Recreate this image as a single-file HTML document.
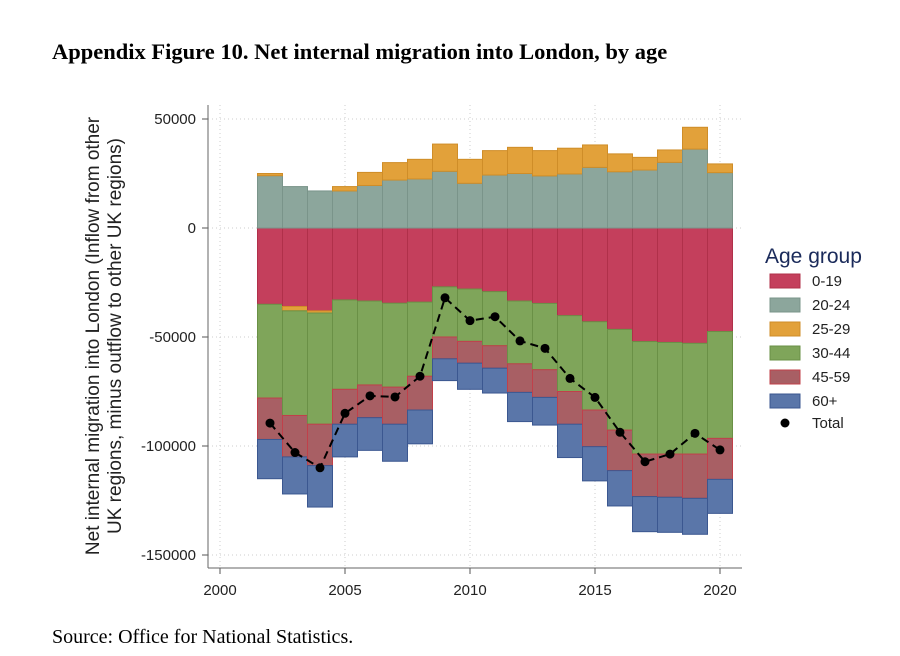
<!DOCTYPE html>
<html><head><meta charset="utf-8">
<style>
body{margin:0;background:#fff;width:900px;height:656px;overflow:hidden;}
svg{display:block;}
</style></head>
<body>
<svg id="chart" width="900" height="656" xmlns="http://www.w3.org/2000/svg">
<text x="52" y="59" font-family="Liberation Serif, serif" font-weight="bold" font-size="22.5" fill="#000">Appendix Figure 10. Net internal migration into London, by age</text>
<text x="52" y="643" font-family="Liberation Serif, serif" font-size="20" fill="#000">Source: Office for National Statistics.</text>
<g font-family="Liberation Sans, sans-serif" fill="#222">
<text transform="translate(99,336) rotate(-90)" text-anchor="middle" font-size="19">Net internal migration into London (Inflow from other</text>
<text transform="translate(121,336) rotate(-90)" text-anchor="middle" font-size="19">UK regions, minus outflow to other UK regions)</text>
</g>
<g id="grid"></g>
<g id="bars"></g>
<g id="line"></g>
<g id="axes"></g>
<g id="legend" font-family="Liberation Sans, sans-serif">
<text x="765" y="263" font-size="21" fill="#1a2a5a">Age group</text>
</g>
</svg>
<script>
const years=[2002,2003,2004,2005,2006,2007,2008,2009,2010,2011,2012,2013,2014,2015,2016,2017,2018,2019,2020];
const s0_19=[-35000,-36000,-38000,-33000,-33500,-34500,-34000,-27000,-28000,-29200,-33500,-34600,-40200,-43000,-46500,-52100,-52500,-52900,-47500];
const s20_24=[24000,19000,17000,17000,19500,22000,22500,26000,20500,24300,25000,23900,24800,27800,25800,26600,30100,36200,25400];
const s25_29=[1000,-2000,-1000,2000,6000,8000,9000,12500,11000,11200,12000,11600,11800,10300,8200,5800,5700,10000,4000];
const s30_44=[-43000,-48000,-51000,-41000,-38500,-38500,-34000,-23000,-24000,-24800,-28800,-30400,-34800,-40500,-46200,-51600,-51200,-50800,-49000];
const s45_59=[-19000,-19000,-19000,-16000,-15000,-17000,-15500,-10000,-10000,-10300,-13100,-12700,-15000,-16800,-18600,-19500,-19800,-20300,-18800];
const s60=[-18000,-17000,-19000,-15000,-15000,-17000,-15500,-10000,-12000,-11400,-13400,-12700,-15300,-15700,-16200,-16100,-16100,-16500,-15600];
const totals=[-89500,-103000,-110000,-85000,-77000,-77500,-68000,-32000,-42500,-40700,-51800,-55200,-69000,-77700,-93700,-107200,-103700,-94200,-101800];
const yTicks=[50000,0,-50000,-100000,-150000];
const xTicks=[2000,2005,2010,2015,2020];

const NS='http://www.w3.org/2000/svg';
const X=y=>220+(y-2000)*25;
const Y=v=>228-v*0.00218;
function mk(tag,attrs,parent){const e=document.createElementNS(NS,tag);for(const k in attrs)e.setAttribute(k,attrs[k]);parent.appendChild(e);return e;}
const grid=document.getElementById('grid'),bars=document.getElementById('bars'),line=document.getElementById('line'),axes=document.getElementById('axes'),legend=document.getElementById('legend');
const L=208,R=742,T=105,B=568;
yTicks.forEach(v=>{
 const g=mk('line',{x1:L,x2:R,y1:Y(v),y2:Y(v),stroke:'#ccc','stroke-dasharray':'1 3'},grid);
 
 
 const t=mk('line',{x1:L-6,x2:L,y1:Y(v),y2:Y(v),stroke:'#555'},axes);
 
 
 const tx=mk('text',{x:L-12,y:Y(v)+5,'text-anchor':'end','font-family':'Liberation Sans, sans-serif','font-size':'15',fill:'#222'},axes);
 tx.textContent=String(v);
 
 
});
xTicks.forEach(v=>{
 const g=mk('line',{x1:X(v),x2:X(v),y1:T,y2:B,stroke:'#ccc','stroke-dasharray':'1 3'},grid);
 
 
 const t=mk('line',{x1:X(v),x2:X(v),y1:B,y2:B+6,stroke:'#555'},axes);
 
 
 const tx=mk('text',{x:X(v),y:B+27,'text-anchor':'middle','font-family':'Liberation Sans, sans-serif','font-size':'15',fill:'#222'},axes);
 tx.textContent=String(v);
 
 
});
const la=mk('line',{x1:L,x2:L,y1:T,y2:B,stroke:'#666'},axes);


const ba=mk('line',{x1:L,x2:R,y1:B,y2:B,stroke:'#666'},axes);



const series=[
 {name:'0-19',vals:s0_19,fill:'#c43f5c',stroke:'#b0304a'},
 {name:'20-24',vals:s20_24,fill:'#8ca69c',stroke:'#7a948a'},
 {name:'25-29',vals:s25_29,fill:'#e2a13a',stroke:'#cf8d28'},
 {name:'30-44',vals:s30_44,fill:'#7fa55a',stroke:'#6a9046'},
 {name:'45-59',vals:s45_59,fill:'#a85f64',stroke:'#c0404a'},
 {name:'60+',vals:s60,fill:'#5a76a9',stroke:'#3b5790'}
];
years.forEach((yr,i)=>{
 let pos=0,neg=0;
 series.forEach(s=>{
  const v=s.vals[i];let a,b;
  if(v>=0){a=pos;b=pos+v;pos=b;}else{a=neg;b=neg+v;neg=b;}
  const r=mk('rect',{x:X(yr)-12.5,width:25,y:Math.min(Y(a),Y(b)),height:Math.abs(Y(a)-Y(b)),fill:s.fill,stroke:s.stroke,'stroke-width':1},bars);
  
  
 });
});
const pts=years.map((yr,i)=>X(yr)+','+Y(totals[i])).join(' ');
const pl=mk('polyline',{points:pts,fill:'none',stroke:'#000','stroke-width':2,'stroke-dasharray':'8 5'},line);


years.forEach((yr,i)=>{
 const c=mk('circle',{cx:X(yr),cy:Y(totals[i]),r:4.5,fill:'#000'},line);
 
 
});
series.forEach((s,k)=>{
 const y=281+k*24;
 const r=mk('rect',{x:770,y:y-7,width:30,height:14,fill:s.fill,stroke:s.stroke},legend);
 
 
 const t=mk('text',{x:812,y:y+5,'font-size':'15',fill:'#222'},legend);
 t.textContent=s.name;
 
 
});
const lc=mk('circle',{cx:785,cy:423,r:4.5,fill:'#000'},legend);


const lt=mk('text',{x:812,y:428,'font-size':'15',fill:'#222'},legend);
lt.textContent='Total';


</script>
</body></html>
